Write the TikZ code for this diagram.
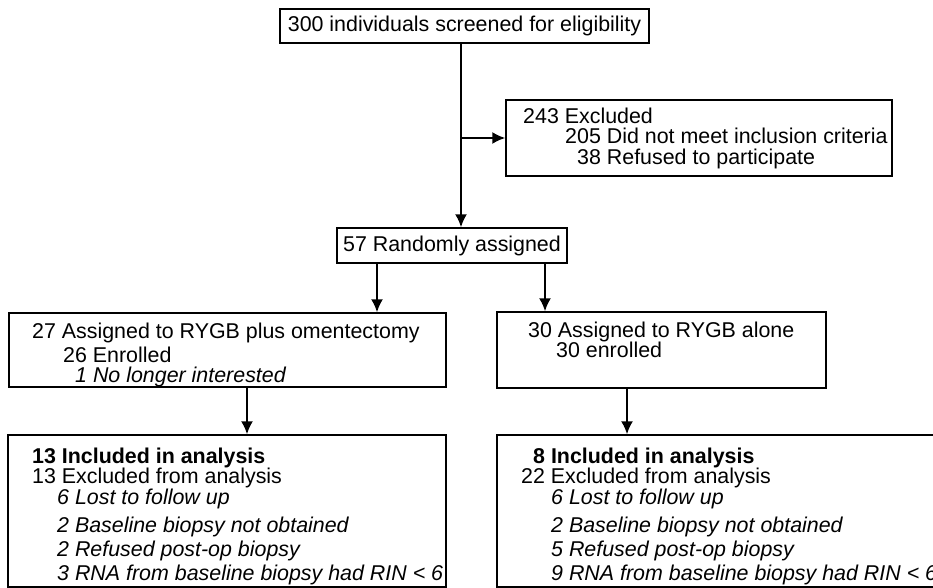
\documentclass[tikz,border=0pt]{standalone}
\usepackage{fontspec}
\setmainfont{Liberation Sans}
\usetikzlibrary{arrows.meta}
\begin{document}
\begin{tikzpicture}[x=1pt, y=-1pt,
    font=\fontsize{21.4}{20.5}\selectfont,
    box/.style={draw, line width=1.4pt, inner sep=0pt},
    txt/.style={align=left, inner sep=0pt, anchor=north west},
    arr/.style={line width=2pt, -{Latex[length=13pt,width=12pt]}}]
    \useasboundingbox (0,0) rectangle (933,588);
    \clip (0,0) rectangle (933,588);

    \node[box, minimum width=369pt, minimum height=34pt] (screen) at (464.5,26) {300 individuals screened for eligibility};
    \node[box, minimum width=386pt, minimum height=76pt] (excl) at (699,138) {};
    \node[txt] (excltxt) at (523,107.6) {243 Excluded\\
        \hspace*{42pt}205 Did not meet inclusion criteria\\
        \hspace*{54pt}38 Refused to participate};
    \node[box, minimum width=230pt, minimum height=35pt] (rand) at (452,245.5) {57 Randomly assigned};

    \node[box, minimum width=437pt, minimum height=74pt] (arm1) at (227.5,350) {};
    \node[txt] (arm1txt) at (32,322.6) {27 Assigned to RYGB plus omentectomy\\[3.5pt]
        \hspace*{31pt}26 Enrolled\\
        \hspace*{43pt}\textit{1 No longer interested}};
    \node[box, minimum width=329pt, minimum height=76pt] (arm2) at (661.5,350) {};
    \node[txt] (arm2txt) at (528,321.6) {30 Assigned to RYGB alone\\
        \hspace*{28pt}30 enrolled};

    \node[box, minimum width=438pt, minimum height=152pt] (res1) at (227,511) {};
    \node[txt] (res1txt) at (32,447.6) {\textbf{13 Included in analysis}\\
        13 Excluded from analysis\\
        \hspace*{25pt}\textit{6 Lost to follow up}\\[8pt]
        \hspace*{25pt}\textit{2 Baseline biopsy not obtained}\\[3.5pt]
        \hspace*{25pt}\textit{2 Refused post-op biopsy}\\[3.5pt]
        \hspace*{25pt}\textit{3 RNA from baseline biopsy had RIN < 6}};
    \node[box, minimum width=448pt, minimum height=152pt] (res2) at (721,511) {};
    \node[txt] (res2txt) at (521,447.6) {\hspace*{12pt}\textbf{8 Included in analysis}\\
        22 Excluded from analysis\\
        \hspace*{30pt}\textit{6 Lost to follow up}\\[8pt]
        \hspace*{30pt}\textit{2 Baseline biopsy not obtained}\\[3.5pt]
        \hspace*{30pt}\textit{5 Refused post-op biopsy}\\[3.5pt]
        \hspace*{30pt}\textit{9 RNA from baseline biopsy had RIN < 6}};

    \coordinate (spine) at (461,0);
    \coordinate (splitL) at (377,0);
    \coordinate (splitR) at (545,0);
    \coordinate (downL) at (247,0);
    \coordinate (downR) at (627,0);

    \draw[arr] (screen.south -| spine) -- (rand.north -| spine);
    \draw[arr] (excl.west -| spine) -- (excl.west);
    \draw[arr] (rand.south -| splitL) -- (arm1.north -| splitL);
    \draw[arr] (rand.south -| splitR) -- (arm2.north -| splitR);
    \draw[arr] (arm1.south -| downL) -- (res1.north -| downL);
    \draw[arr] (arm2.south -| downR) -- (res2.north -| downR);
\end{tikzpicture}
\end{document}
